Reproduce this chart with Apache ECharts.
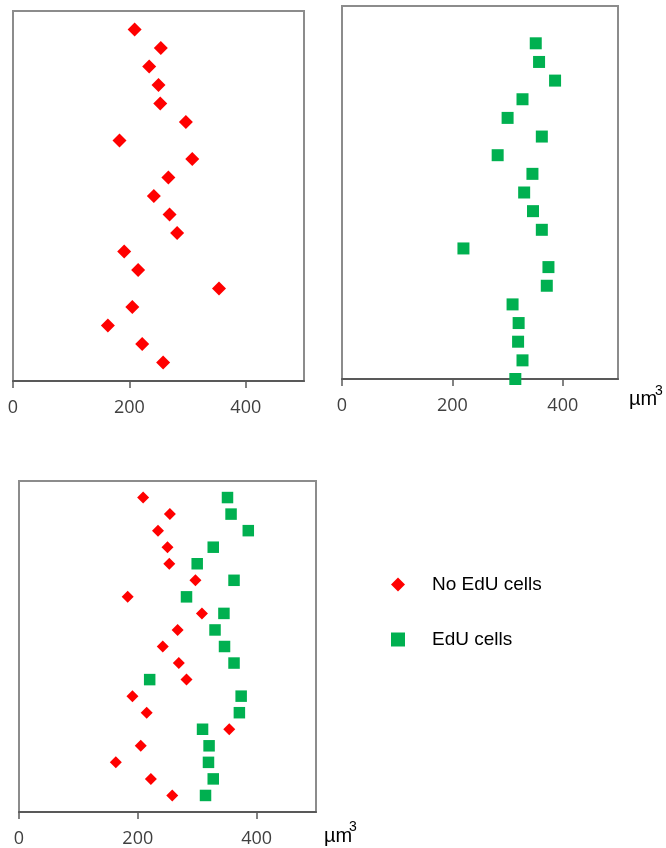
<!DOCTYPE html>
<html>
<head>
<meta charset="utf-8">
<script src="https://cdn.jsdelivr.net/npm/echarts@6/dist/echarts.min.js"></script>
<style>
  html, body { margin: 0; padding: 0; background: #fff; }
  #chart { width: 666px; height: 848px; }
</style>
</head>
<body>
<div id="chart"></div>
<script>
// cell volumes (µm3), top row first
var noEduVolumes = [209, 254, 234, 250, 253, 297, 183, 308, 267, 242, 269, 282, 191, 215, 354, 205, 163, 222, 258];
var eduVolumes = [351, 357, 386, 327, 300, 362, 282, 345, 330, 346, 362, 220, 374, 371, 309, 320, 319, 327, 314];

// vertical slot of each cell
var rows = [19, 18, 17, 16, 15, 14, 13, 12, 11, 10, 9, 8, 7, 6, 5, 4, 3, 2, 1];
var rowsTopRight = [18, 17, 16, 15, 14, 13, 12, 11, 10, 9, 8, 7, 6, 5, 4, 3, 2, 1, 0];

var xTicks = [0, 200, 400];
var unitLabel = 'µm';

var RED = '#ff0000', GREEN = '#00b050';

function pairs(vals, ys) {
  return vals.map(function (v, i) { return [v, ys[i]]; });
}

function xAxisFor(idx) {
  return {
    type: 'value', gridIndex: idx, min: 0, max: 500, interval: 100,
    splitLine: { show: false },
    axisLine: { lineStyle: { color: '#595959', width: 2 } },
    axisTick: { customValues: xTicks, length: 7, lineStyle: { color: '#595959', width: 1.5 } },
    axisLabel: {
      customValues: xTicks, margin: 18,
      color: '#404040', fontFamily: 'Open Sans', fontSize: 18
    }
  };
}

function yAxisFor(idx) {
  return { type: 'value', gridIndex: idx, min: 0, max: 20, show: false };
}

var gridStyle = { show: true, borderColor: '#8c8c8c', borderWidth: 2, backgroundColor: 'transparent' };

var chart = echarts.init(document.getElementById('chart'));
var option = {
  animation: false,
  grid: [
    Object.assign({ left: 13, top: 11, width: 291, height: 370 }, gridStyle),
    Object.assign({ left: 342, top: 6, width: 276, height: 373 }, gridStyle),
    Object.assign({ left: 19, top: 481, width: 297, height: 331 }, gridStyle)
  ],
  xAxis: [xAxisFor(0), xAxisFor(1), xAxisFor(2)],
  yAxis: [yAxisFor(0), yAxisFor(1), yAxisFor(2)],
  legend: {
    orient: 'vertical',
    left: 386, top: 570,
    itemWidth: 14, itemHeight: 14,
    itemGap: 36,
    data: [
      { name: 'No EdU cells', icon: 'diamond' },
      { name: 'EdU cells', icon: 'rect' }
    ],
    textStyle: {
      fontFamily: 'Liberation Sans', fontSize: 19, color: '#000',
      padding: [8, 0, 0, 22]
    }
  },
  graphic: [
    { type: 'text', left: 629, top: 389, style: { text: unitLabel, font: '20px "Liberation Sans"', fill: '#000' } },
    { type: 'text', left: 655, top: 384, style: { text: '3', font: '14px "Liberation Sans"', fill: '#000' } },
    { type: 'text', left: 324, top: 826, style: { text: unitLabel, font: '20px "Liberation Sans"', fill: '#000' } },
    { type: 'text', left: 349, top: 820, style: { text: '3', font: '14px "Liberation Sans"', fill: '#000' } }
  ],
  series: [
    {
      name: 'No EdU cells', type: 'scatter', xAxisIndex: 0, yAxisIndex: 0,
      symbol: 'diamond', symbolSize: 14, clip: false,
      itemStyle: { color: RED, opacity: 1 },
      data: pairs(noEduVolumes, rows)
    },
    {
      name: 'EdU cells', type: 'scatter', xAxisIndex: 1, yAxisIndex: 1,
      symbol: 'rect', symbolSize: 12, clip: false,
      itemStyle: { color: GREEN, opacity: 1 },
      data: pairs(eduVolumes, rowsTopRight)
    },
    {
      name: 'No EdU cells', type: 'scatter', xAxisIndex: 2, yAxisIndex: 2,
      symbol: 'diamond', symbolSize: 12, clip: false,
      itemStyle: { color: RED, opacity: 1 },
      data: pairs(noEduVolumes, rows)
    },
    {
      name: 'EdU cells', type: 'scatter', xAxisIndex: 2, yAxisIndex: 2,
      symbol: 'rect', symbolSize: 11.5, clip: false,
      itemStyle: { color: GREEN, opacity: 1 },
      data: pairs(eduVolumes, rows)
    }
  ]
};
chart.setOption(option);
</script>
</body>
</html>
